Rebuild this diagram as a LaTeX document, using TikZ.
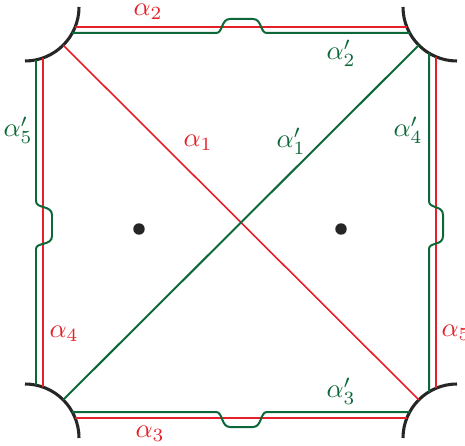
\documentclass[tikz,border=0pt]{standalone}
\usepackage{amsmath,amssymb}
\usepackage{xcolor}
\definecolor{arccolor}{RGB}{230,32,40}
\definecolor{primecolor}{RGB}{12,104,56}

\begin{document}
\begin{tikzpicture}[
    x=0.0132cm, y=-0.0132cm,
    redarc/.style={draw=arccolor, line width=0.6pt},
    greenarc/.style={draw=primecolor, line width=0.75pt, rounded corners=0.4pt},
    boundary/.style={draw=black!85, line width=1.15pt},
    puncture/.style={circle, fill=black!85, inner sep=0pt, minimum size=4.3pt},
    redlabel/.style={text=arccolor, inner sep=1pt},
    greenlabel/.style={text=primecolor, inner sep=1pt}
  ]
    \useasboundingbox (0,0) rectangle (465,446);

    %% Corners of the square
    \coordinate (tl) at (25,7);
    \coordinate (tr) at (457,7);
    \coordinate (bl) at (25,438);
    \coordinate (br) at (457,438);
    \coordinate (tlm) at (63.2,45.2);
    \coordinate (trm) at (418.8,45.2);
    \coordinate (blm) at (63.2,399.8);
    \coordinate (brm) at (418.8,399.8);

    %% Boundary arcs
    \draw[boundary] (79,7) arc[start angle=0, end angle=90, radius=54];
    \draw[boundary] (457,61) arc[start angle=90, end angle=180, radius=54];
    \draw[boundary] (25,384) arc[start angle=270, end angle=360, radius=54];
    \draw[boundary] (403,438) arc[start angle=180, end angle=270, radius=54];

    %% Red arcs
    \draw[redarc] (75,27) -- (407,27);
    \draw[redarc] (75,418) -- (407,418);
    \draw[redarc] (43,58) -- (43,387);
    \draw[redarc] (436,57) -- (436,388);
    \draw[redarc] (tlm) -- (brm);

    %% Green arcs
    \draw[greenarc] (72,33) -- (215,33) .. controls (223,33) and (221,19) .. (231,19)
      -- (252,19) .. controls (262,19) and (260,33) .. (268,33) -- (410,33);
    \draw[greenarc] (72,412) -- (215,412) .. controls (223,412) and (221,427) .. (231,427)
      -- (252,427) .. controls (262,427) and (260,412) .. (268,412) -- (410,412);
    \draw[greenarc] (36,60) -- (36,200) .. controls (36,209) and (52,205) .. (52,216)
      -- (52,235) .. controls (52,246) and (36,242) .. (36,250) -- (36,385);
    \draw[greenarc] (429,53) -- (429,200) .. controls (429,209) and (443,205) .. (443,216)
      -- (443,235) .. controls (443,246) and (429,242) .. (429,250) -- (429,392);
    \draw[greenarc] (blm) -- (trm);

    %% Punctures
    \node[puncture] (pl) at (139,229) {};
    \node[puncture] (pr) at (341,229) {};

    %% Labels
    \node[redlabel] (a1) at (198,143) {$\alpha_1$};
    \node[redlabel] (a2) at (148,12) {$\alpha_2$};
    \node[redlabel] (a3) at (150,434) {$\alpha_3$};
    \node[redlabel] (a4) at (64,334) {$\alpha_4$};
    \node[redlabel] (a5) at (456,333) {$\alpha_5$};
    \node[greenlabel] (a1p) at (291,141) {$\alpha'_1$};
    \node[greenlabel] (a2p) at (341,53) {$\alpha'_2$};
    \node[greenlabel] (a3p) at (341,391) {$\alpha'_3$};
    \node[greenlabel] (a4p) at (408,130) {$\alpha'_4$};
    \node[greenlabel] (a5p) at (18,130) {$\alpha'_5$};
  \end{tikzpicture}
\end{document}
